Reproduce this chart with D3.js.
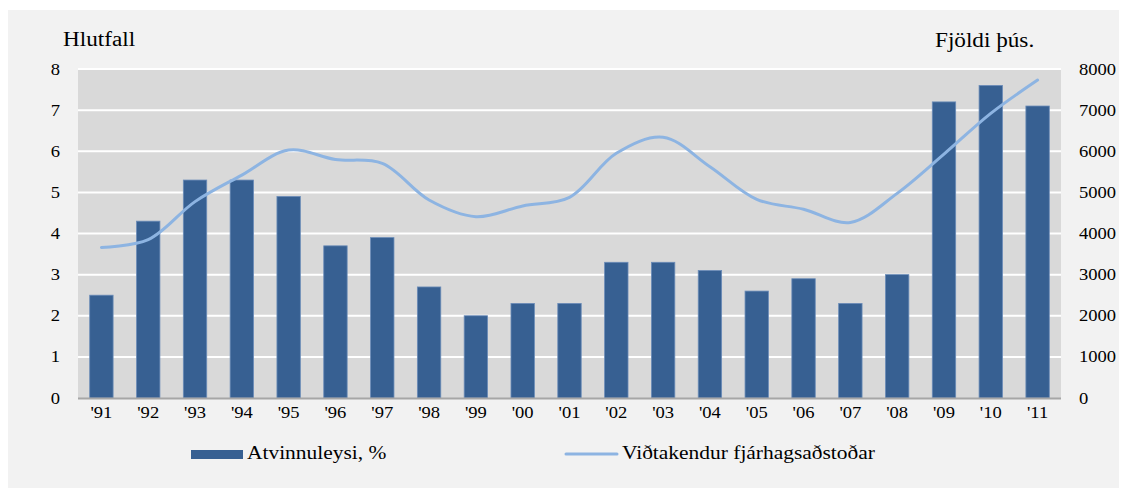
<!DOCTYPE html>
<html>
<head>
<meta charset="utf-8">
<script src="https://cdn.jsdelivr.net/npm/d3@7"></script>
<style>
    body { margin: 0; background: #ffffff; }
    svg text { font-family: "Liberation Serif", "Times New Roman", serif !important; }
</style>
</head>
<body>
<svg id="chart" width="1123" height="491" font-family="Liberation Serif"></svg>
<script>
// data
const years = ["'91", "'92", "'93", "'94", "'95", "'96", "'97", "'98", "'99", "'00", "'01",
    "'02", "'03", "'04", "'05", "'06", "'07", "'08", "'09", "'10", "'11"];
const unemployment = [2.5, 4.3, 5.3, 5.3, 4.9, 3.7, 3.9, 2.7, 2.0, 2.3, 2.3,
    3.3, 3.3, 3.1, 2.6, 2.9, 2.3, 3.0, 7.2, 7.6, 7.1];
const recipients = [3660, 3850, 4775, 5420, 6030, 5800, 5705, 4815, 4410, 4670, 4880,
    5950, 6340, 5625, 4830, 4590, 4270, 4975, 5930, 6920, 7730];
const leftTicks = [0, 1, 2, 3, 4, 5, 6, 7, 8];
const rightTicks = [0, 1000, 2000, 3000, 4000, 5000, 6000, 7000, 8000];
const labels = {
    left: "Hlutfall",
    right: "Fjöldi þús.",
    bars: "Atvinnuleysi, %",
    line: "Viðtakendur fjárhagsaðstoðar"
};

const plot = { left: 78, right: 1061, top: 69, bottom: 398 };
const sx = 1.16; // text in the picture is a bit wider than it is tall
const fontName = "Liberation Serif";

const colors = {
    panel: "#f2f2f2",
    plotBg: "#d9d9d9",
    grid: "#ffffff",
    bar: "#376092",
    barEdge: "#6b8cb8",
    line: "#8db4e2",
    baseline: "#a6a6a6"
};

const svg = d3.select("#chart");

svg.append("rect")
    .attr("x", 8).attr("y", 10)
    .attr("width", 1111).attr("height", 478)
    .attr("fill", colors.panel);

const xScale = d3.scaleBand()
    .domain(years)
    .range([plot.left, plot.right])
    .paddingInner(0.5)
    .paddingOuter(0.25);

const yLeft = d3.scaleLinear().domain([0, 8]).range([plot.bottom, plot.top]);
const yRight = d3.scaleLinear().domain([0, 8000]).range([plot.bottom, plot.top]);

svg.append("rect")
    .attr("x", plot.left).attr("y", plot.top)
    .attr("width", plot.right - plot.left)
    .attr("height", plot.bottom - plot.top)
    .attr("fill", colors.plotBg);

// gridlines
svg.append("g")
    .selectAll("line")
    .data(leftTicks.slice(1))
    .join("line")
    .attr("x1", plot.left)
    .attr("x2", plot.right)
    .attr("y1", d => yLeft(d))
    .attr("y2", d => yLeft(d))
    .attr("stroke", colors.grid)
    .attr("stroke-width", 2);

// bars
svg.append("g")
    .selectAll("rect")
    .data(unemployment)
    .join("rect")
    .attr("x", (d, i) => xScale(years[i]))
    .attr("y", d => yLeft(d))
    .attr("width", xScale.bandwidth())
    .attr("height", d => yLeft(0) - yLeft(d))
    .attr("fill", colors.bar)
    .attr("stroke", colors.barEdge)
    .attr("stroke-width", 0.8);

// baseline
svg.append("line")
    .attr("x1", plot.left).attr("x2", plot.right)
    .attr("y1", plot.bottom + 0.5).attr("y2", plot.bottom + 0.5)
    .attr("stroke", colors.baseline)
    .attr("stroke-width", 2);

// smoothed line
const line = d3.line()
    .x((d, i) => xScale(years[i]) + xScale.bandwidth() / 2)
    .y(d => yRight(d))
    .curve(d3.curveCatmullRom.alpha(0.5));

svg.append("path")
    .datum(recipients)
    .attr("d", line)
    .attr("fill", "none")
    .attr("stroke", colors.line)
    .attr("stroke-width", 3)
    .attr("stroke-linecap", "round");

// axes
const leftAxis = svg.append("g")
    .attr("transform", `translate(${plot.left},0)`)
    .call(d3.axisLeft(yLeft).tickValues(leftTicks).tickSize(0).tickPadding(18));

const rightAxis = svg.append("g")
    .attr("transform", `translate(${plot.right},0)`)
    .call(d3.axisRight(yRight).tickValues(rightTicks).tickFormat(d3.format("d"))
        .tickSize(0).tickPadding(18));

const bottomAxis = svg.append("g")
    .attr("transform", `translate(0,${plot.bottom})`)
    .call(d3.axisBottom(xScale).tickSize(0).tickPadding(9));

[leftAxis, rightAxis, bottomAxis].forEach(axis => {
    axis.attr("font-family", fontName).attr("font-size", 16);
    axis.select(".domain").remove();
    axis.selectAll("text")
        .attr("font-family", fontName)
        .attr("font-size", 16)
        .attr("fill", "#000")
        .attr("x", function() { return +d3.select(this).attr("x") / sx; })
        .attr("transform", `scale(${sx},1)`);
});

function addText(x, y, txt, size) {
    svg.append("text")
        .attr("transform", `translate(${x},${y}) scale(${sx},1)`)
        .attr("fill", "#000")
        .attr("font-family", fontName)
        .attr("font-size", size)
        .text(txt);
}

addText(63, 46, labels.left, 20);
addText(935, 47, labels.right, 20);

// legend
svg.append("rect")
    .attr("x", 191).attr("y", 450)
    .attr("width", 52).attr("height", 9)
    .attr("fill", colors.bar);
addText(247, 459, labels.bars, 18.5);

svg.append("line")
    .attr("x1", 566).attr("x2", 617)
    .attr("y1", 454).attr("y2", 454)
    .attr("stroke", colors.line)
    .attr("stroke-width", 3)
    .attr("stroke-linecap", "round");
addText(622, 459, labels.line, 18.5);
</script>
</body>
</html>
